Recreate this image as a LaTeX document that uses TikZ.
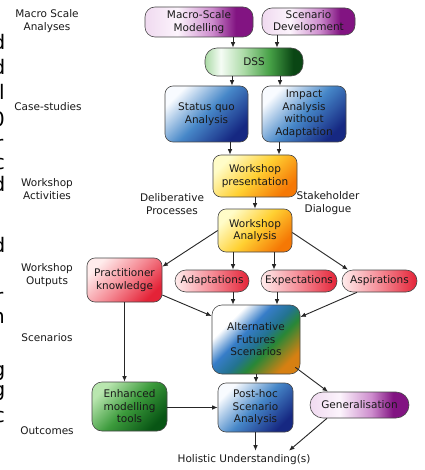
\documentclass[tikz,border=0pt]{standalone}
\usepackage{fontspec}
\setmainfont{DejaVu Sans}
\usetikzlibrary{arrows.meta,calc}

\definecolor{purL}{RGB}{240,218,240}
\definecolor{purW}{RGB}{252,244,252}
\definecolor{purM}{RGB}{205,140,205}
\definecolor{purD}{RGB}{130,20,130}
\definecolor{grL}{RGB}{170,218,165}
\definecolor{grW}{RGB}{245,252,245}
\definecolor{grM}{RGB}{70,160,70}
\definecolor{grD}{RGB}{10,70,20}
\definecolor{bluW}{RGB}{248,251,255}
\definecolor{bluM}{RGB}{70,135,200}
\definecolor{bluD}{RGB}{22,40,130}
\definecolor{yelL}{RGB}{255,252,200}
\definecolor{yelM}{RGB}{255,208,50}
\definecolor{yelD}{RGB}{245,120,5}
\definecolor{redL}{RGB}{255,236,236}
\definecolor{redM}{RGB}{245,140,150}
\definecolor{redD}{RGB}{228,35,55}
\definecolor{enhL}{RGB}{185,230,175}
\definecolor{enhM}{RGB}{60,155,60}
\definecolor{enhD}{RGB}{8,85,20}
\definecolor{afsW}{RGB}{255,255,255}
\definecolor{afsB}{RGB}{55,125,200}
\definecolor{afsT}{RGB}{35,115,145}
\definecolor{afsG}{RGB}{40,135,55}
\definecolor{afsO}{RGB}{215,128,18}
\definecolor{inkc}{RGB}{25,25,25}

\pgfdeclarehorizontalshading{purpshade}{100bp}{color(0bp)=(purL); color(25bp)=(purL); color(40bp)=(purW); color(56bp)=(purM); color(67bp)=(purD); color(100bp)=(purD)}
\pgfdeclarehorizontalshading{dssshade}{100bp}{color(0bp)=(grL); color(25bp)=(grL); color(33bp)=(grW); color(45bp)=(grL); color(58bp)=(grM); color(70bp)=(grD); color(100bp)=(grD)}
\pgfdeclarehorizontalshading{afsshade}{100bp}{color(0bp)=(afsW); color(30bp)=(afsW); color(42bp)=(afsB); color(52bp)=(afsT); color(60bp)=(afsG); color(75bp)=(afsO); color(100bp)=(afsO)}

\newcommand{\nf}{\fontsize{10.5}{12.5}\selectfont}
\newcommand{\fragf}{\fontsize{20}{20}\selectfont}

\tikzset{
  base/.style={draw=black!72, line width=0.6pt, inner sep=1pt, align=center, font=\nf, text=inkc},
  sz/.style 2 args={minimum width=#1pt, minimum height=#2pt},
  purpbox/.style={base, shade, shading=purpshade},
  dssbox/.style={base, shade, shading=dssshade},
  bluebox/.style={base, top color=bluW, bottom color=bluD, middle color=bluM, shading angle=45},
  yelbox/.style={base, top color=yelL, bottom color=yelD, middle color=yelM, shading angle=45},
  redbox/.style={base, top color=redL, bottom color=redD, middle color=redM, shading angle=45},
  redpill/.style={base, left color=redL, right color=redD, middle color=redM},
  enhbox/.style={base, top color=enhL, bottom color=enhD, middle color=enhM, shading angle=45},
  afsbox/.style={base, shade, shading=afsshade, shading angle=-45},
  lbl/.style={font=\nf, align=center, text=inkc, inner sep=1pt},
  frag/.style={font=\fragf, inner sep=0pt, text=black},
  arr/.style={-{Latex[length=5.5pt,width=4.5pt]}, line width=0.9pt, draw=black!85}
}

\begin{document}
\begin{tikzpicture}[x=1pt, y=-1pt]
\fill[white] (0,0) rectangle (424,470);
\useasboundingbox (0,0) rectangle (424,470);

% clipped fragments of neighbouring text at the left edge
\foreach \g/\b/\e [count=\i] in {d/50/5.5, d/75/5.5, l/100/5, 0/127/5, r/151/3.5, c/170/5, d/192/5.5, d/252/5.5, r/303/3.5, n/323/5, g/376/5.5, g/396/5.5, c/422/5}
  \node[frag, anchor=base east] (fr\i) at (\e,\b) {\g};

% left labels
\node[lbl] (l1) at (47,21) {Macro Scale\\Analyses};
\node[lbl] (l2) at (48,107) {Case-studies};
\node[lbl] (l3) at (47,189) {Workshop\\Activities};
\node[lbl] (l4) at (47,275) {Workshop\\Outputs};
\node[lbl] (l5) at (47,338) {Scenarios};
\node[lbl] (l6) at (47,431) {Outcomes};

% boxes
\node[purpbox, sz={108}{30}, rounded corners=10pt] (macro) at (199,22) {Macro-Scale\\Modelling};
\node[purpbox, sz={93}{27}, rounded corners=10pt] (scen) at (308.5,21.5) {Scenario\\Development};
\node[dssbox, sz={98}{28}, rounded corners=12pt] (dss) at (254,62) {DSS};
\node[bluebox, sz={83}{56}, rounded corners=8pt] (sq) at (206.5,114) {Status quo\\Analysis};
\node[bluebox, sz={84}{56}, rounded corners=8pt] (imp) at (304,114) {Impact\\Analysis\\without\\Adaptation};
\node[yelbox, sz={84}{42}, rounded corners=8pt] (wp) at (255,176) {Workshop\\presentation};
\node[yelbox, sz={74}{43}, rounded corners=8pt] (wa) at (255,230.5) {Workshop\\Analysis};
\node[redbox, sz={75}{44}, rounded corners=8pt] (prac) at (124.5,280) {Practitioner\\knowledge};
\node[redpill, sz={74}{22}, rounded corners=11pt] (adapt) at (212,281) {Adaptations};
\node[redpill, sz={76}{22}, rounded corners=11pt] (expect) at (299,281) {Expectations};
\node[redpill, sz={75}{22}, rounded corners=11pt] (aspir) at (379.5,281) {Aspirations};
\node[afsbox, sz={88}{69}, rounded corners=10pt] (afs) at (256,339.5) {Alternative\\Futures\\Scenarios};
\node[enhbox, sz={75}{49}, rounded corners=10pt] (enh) at (129.5,406.5) {Enhanced\\modelling\\tools};
\node[bluebox, sz={75}{49}, rounded corners=8pt] (post) at (255.5,407.5) {Post-hoc\\Scenario\\Analysis};
\node[purpbox, sz={99}{26}, rounded corners=13pt] (gen) at (359.5,405) {Generalisation};
\node[lbl, inner sep=4pt] (hol) at (244,460) {Holistic Understanding(s)};

\node[lbl] (delib) at (172,204) {Deliberative\\Processes};
\node[lbl] (stake) at (328,203) {Stakeholder\\Dialogue};

% connectors
\draw[arr] ([xshift=34pt]macro.south) -- ([xshift=34pt]macro.south |- dss.north);
\draw[arr] ([xshift=-31.5pt]scen.south) -- ([xshift=-31.5pt]scen.south |- dss.north);
\draw[arr] ([xshift=-22pt]dss.south) -- ([xshift=-22pt]dss.south |- sq.north);
\draw[arr] ([xshift=26pt]dss.south) -- ([xshift=26pt]dss.south |- imp.north);
\draw[arr] ([xshift=23.5pt]sq.south) -- ([xshift=23.5pt]sq.south |- wp.north);
\draw[arr] ([xshift=-25pt]imp.south) -- ([xshift=-25pt]imp.south |- wp.north);
\draw[arr] (wp.south) -- (wp.south |- wa.north);
\draw[arr] (wa.west) -- ([yshift=-9pt]prac.north east);
\draw[arr] ([xshift=-22pt]wa.south) -- ([xshift=-22pt]wa.south |- adapt.north);
\draw[arr] ([xshift=19pt]wa.south) -- ([xshift=19pt]wa.south |- expect.north);
\draw[arr] ([yshift=-2pt]wa.east) -- ([xshift=-31.5pt]aspir.north);
\draw[arr] ([xshift=21pt]adapt.south) -- ([xshift=21pt]adapt.south |- afs.north);
\draw[arr] ([xshift=-22pt]expect.south) -- ([xshift=-22pt]expect.south |- afs.north);
\draw[arr] ([yshift=-15pt]prac.east) -- ([yshift=23.5pt]afs.west);
\draw[arr] ([xshift=-22.5pt]aspir.south) -- ([yshift=22.5pt]afs.east);
\draw[arr] (prac.south) -- (prac.south |- enh.north);
\draw[arr] ([yshift=-1pt]enh.east) -- ([yshift=-1pt]enh.east -| post.west);
\draw[arr] (afs.south) -- (afs.south |- post.north);
\draw[arr] ([xshift=-5pt,yshift=7pt]afs.south east) -- ([xshift=-31.5pt]gen.north);
\draw[arr] (post.south) -- (post.south |- hol.north);
\draw[arr] ([xshift=-32.5pt]gen.south) -- ([xshift=45pt]hol.north);
\end{tikzpicture}
\end{document}
